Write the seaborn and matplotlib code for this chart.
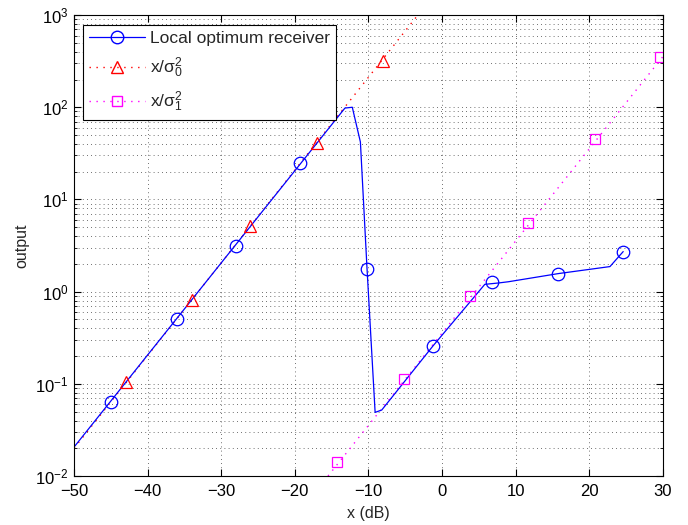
import numpy as np
import pandas as pd
import matplotlib
matplotlib.use("Agg")
import matplotlib.pyplot as plt
from matplotlib.lines import Line2D
from matplotlib.ticker import LogLocator
import seaborn as sns

# ---- data ----
blue_line_x = [-50, -13.2, -12.2, -11.1, -10.2, -9.1, -8.2, -1.2, 5.8, 7.6, 9.0, 15.8, 22.8, 24.6]
blue_line_y = [0.0206, 98, 100, 42, 1.78, 0.049, 0.052, 0.26, 1.2, 1.24, 1.28, 1.57, 1.87, 2.72]
blue_mark_x = [-45.0, -36.0, -28.0, -19.3, -10.2, -1.2, 6.8, 15.8, 24.6]
blue_mark_y = [0.063, 0.51, 3.16, 25, 1.78, 0.26, 1.26, 1.57, 2.72]

red_line_x = [-50, -3.3]
red_line_y = [0.02, 1000]
red_mark_x = [-42.9, -34.0, -26.1, -17.0, -8.0]
red_mark_y = [0.104, 0.82, 5.2, 41, 318]

mag_line_x = [-15.5, 30]
mag_line_y = [0.01, 355]
mag_mark_x = [-14.3, -5.2, 3.8, 11.7, 20.8, 29.6]
mag_mark_y = [0.0142, 0.112, 0.89, 5.6, 45.5, 351]

labels = ["Local optimum receiver", r"x/$\mathregular{\sigma_0^2}$", r"x/$\mathregular{\sigma_1^2}$"]
x_ticks = [-50, -40, -30, -20, -10, 0, 10, 20, 30]

sns.set_style("ticks")
plt.rcParams["font.family"] = ["Liberation Sans", "DejaVu Sans"]
plt.rcParams["mathtext.fontset"] = "custom"
plt.rcParams["mathtext.rm"] = "Liberation Sans"
plt.rcParams["mathtext.it"] = "Liberation Sans"
plt.rcParams["mathtext.sf"] = "Liberation Sans"

fig = plt.figure(figsize=(6.88, 5.25), dpi=100)
ax = fig.add_axes([0.1076, 0.0933, 0.856, 0.878])

BLUE, RED, MAG = (0, 0, 1), (1, 0, 0), (1, 0, 1)
DOT = (0, (1, 4))

sns.lineplot(x=mag_line_x, y=mag_line_y, ax=ax, color=MAG, linestyle=DOT, lw=1.0, sort=False)
sns.lineplot(x=red_line_x, y=red_line_y, ax=ax, color=RED, linestyle=DOT, lw=1.0, sort=False)
sns.lineplot(x=blue_line_x, y=blue_line_y, ax=ax, color=BLUE, lw=0.9, sort=False)

sns.lineplot(x=blue_mark_x, y=blue_mark_y, ax=ax, color=BLUE, linestyle="none", marker="o",
             markersize=9, markerfacecolor="none", markeredgecolor=BLUE, markeredgewidth=0.9, sort=False)
sns.lineplot(x=red_mark_x, y=red_mark_y, ax=ax, color=RED, linestyle="none", marker="^",
             markersize=9, markerfacecolor="none", markeredgecolor=RED, markeredgewidth=0.9, sort=False)
sns.lineplot(x=mag_mark_x, y=mag_mark_y, ax=ax, color=MAG, linestyle="none", marker="s",
             markersize=7, markerfacecolor="none", markeredgecolor=MAG, markeredgewidth=0.9, sort=False)

ax.set_yscale("log")
ax.set_xlim(-50, 30)
ax.set_ylim(1e-2, 1e3)
ax.set_xticks(x_ticks)
ax.set_xticklabels(["\u2212%d" % -v if v < 0 else str(v) for v in x_ticks])
ax.yaxis.set_major_locator(LogLocator(base=10, numticks=10))
ax.yaxis.set_minor_locator(LogLocator(base=10, subs=np.arange(2, 10), numticks=20))

ax.grid(True, which="major", axis="both", color="0.25", linestyle=DOT, lw=0.6)
ax.grid(True, which="minor", axis="y", color="0.25", linestyle=DOT, lw=0.6)
ax.set_axisbelow(True)

for s in ax.spines.values():
    s.set_visible(True)
    s.set_linewidth(0.8)
    s.set_color("black")
ax.tick_params(which="both", direction="in", top=True, right=True, labelsize=12, colors="black")
ax.tick_params(which="major", length=5, width=0.8)
ax.tick_params(which="minor", length=2.5, width=0.6)
ax.tick_params(axis="x", which="major", pad=6)
ax.tick_params(axis="y", which="major", pad=4)

ax.set_xlabel("x (dB)", fontsize=11.5, labelpad=5)
ax.set_ylabel("output", fontsize=11.5, labelpad=4)

handles = [
    Line2D([], [], color=BLUE, lw=0.9, marker="o", markersize=9, markerfacecolor="none", markeredgecolor=BLUE),
    Line2D([], [], color=RED, lw=1.0, linestyle=DOT, marker="^", markersize=9, markerfacecolor="none", markeredgecolor=RED),
    Line2D([], [], color=MAG, lw=1.0, linestyle=DOT, marker="s", markersize=7, markerfacecolor="none", markeredgecolor=MAG),
]
leg = ax.legend(handles, labels, loc="upper left", bbox_to_anchor=(0.0153, 0.978), fontsize=12.5,
                frameon=True, fancybox=False, framealpha=1, edgecolor="black", handlelength=3.2,
                borderpad=0.35, labelspacing=0.55, handletextpad=0.3, borderaxespad=0)
leg.get_frame().set_linewidth(0.8)

fig.savefig("out.png", dpi=100)
